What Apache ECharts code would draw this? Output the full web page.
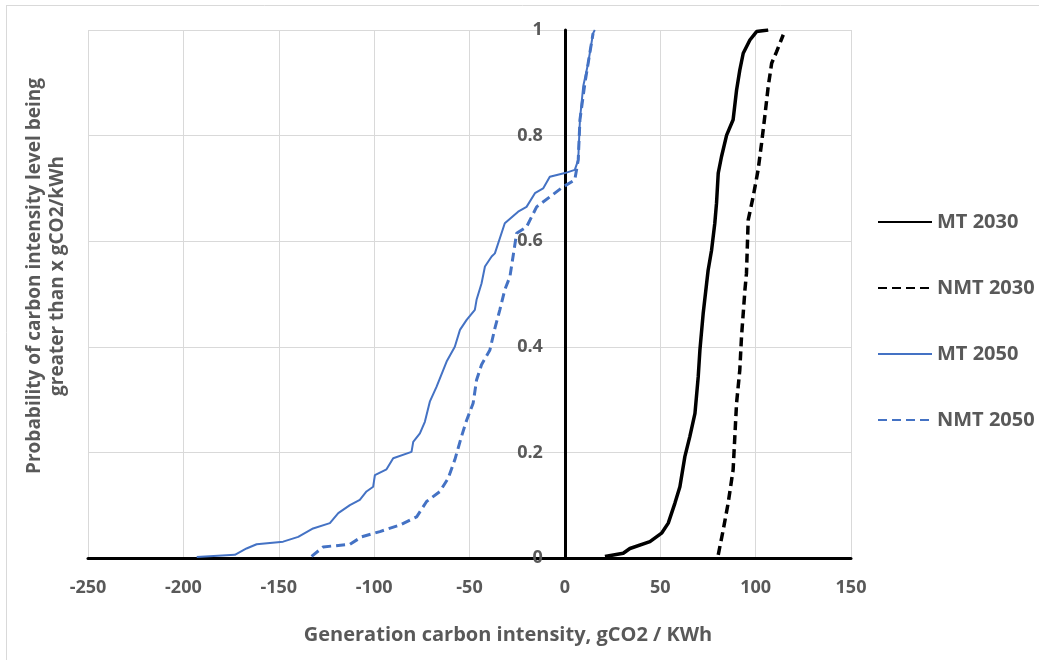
<!DOCTYPE html>
<html>
<head>
<meta charset="utf-8">
<script src="https://cdn.jsdelivr.net/npm/echarts@6/dist/echarts.min.js"></script>
<style>
  html, body { margin: 0; padding: 0; background: #fff; }
  #chart { width: 1039px; height: 660px; }
</style>
</head>
<body>
<div id="chart"></div>
<script>
// x = generation carbon intensity (gCO2/kWh), y = probability
var seriesNames = ['MT 2030', 'NMT 2030', 'MT 2050', 'NMT 2050'];
var xTicks = [-250, -200, -150, -100, -50, 0, 50, 100, 150];
var yTicks = [0, 0.2, 0.4, 0.6, 0.8, 1];

var mt2030 = [
  [21, 0.003], [30.6, 0.009], [34.1, 0.018], [44.6, 0.031], [50.7, 0.047],
  [54.2, 0.066], [57.7, 0.104], [60.3, 0.135], [62.9, 0.192], [65.5, 0.23],
  [68.2, 0.274], [69.9, 0.343], [70.8, 0.394], [72.5, 0.463], [74.3, 0.52],
  [75.1, 0.545], [76.9, 0.583], [78.6, 0.634], [79.5, 0.672], [80.4, 0.729],
  [82.1, 0.76], [84.8, 0.801], [88.2, 0.83], [90, 0.886], [91.7, 0.924],
  [93.5, 0.956], [97, 0.981], [100.5, 0.997], [106.6, 1]
];
var nmt2030 = [
  [80.4, 0.006], [83, 0.053], [85.6, 0.104], [88.2, 0.167], [89.1, 0.23],
  [90, 0.293], [91.7, 0.356], [92.6, 0.419], [94.4, 0.508], [95.2, 0.539],
  [96.1, 0.64], [98.7, 0.684], [101.3, 0.735], [103.1, 0.785], [104.8, 0.836],
  [106.6, 0.893], [108.4, 0.937], [111, 0.959], [114.5, 0.991]
];
var mt2050 = [
  [-193, 0.002], [-173, 0.006], [-166.9, 0.018], [-161.6, 0.026], [-147.7, 0.031],
  [-139.8, 0.04], [-132, 0.056], [-123.2, 0.066], [-118.8, 0.085], [-112.7, 0.1],
  [-107.5, 0.11], [-104, 0.126], [-100.5, 0.135], [-99.6, 0.157], [-93.5, 0.168],
  [-90, 0.189], [-80.4, 0.201], [-79.5, 0.22], [-76, 0.236], [-73.4, 0.258],
  [-70.8, 0.296], [-67.3, 0.324], [-62, 0.372], [-57.7, 0.4], [-55, 0.432],
  [-51.5, 0.451], [-47.2, 0.47], [-46.3, 0.489], [-43.7, 0.52], [-41.9, 0.552],
  [-38.4, 0.571], [-36.7, 0.577], [-31.5, 0.634], [-24.5, 0.656], [-20.1, 0.665],
  [-15.7, 0.691], [-11.4, 0.7], [-7.9, 0.722], [0, 0.729], [5.2, 0.735],
  [7, 0.754], [7.9, 0.83], [9.6, 0.893], [12.2, 0.937], [14.8, 0.994], [15.7, 1]
];
var nmt2050 = [
  [-132.8, 0.003], [-126.7, 0.021], [-112.7, 0.026], [-106.6, 0.04], [-97, 0.05],
  [-86.5, 0.0625], [-77.7, 0.078], [-72.5, 0.107], [-65.5, 0.126], [-61.2, 0.151],
  [-57.7, 0.186], [-54.2, 0.23], [-51.5, 0.261], [-48.1, 0.293], [-46.3, 0.337],
  [-43.7, 0.366], [-39.3, 0.394], [-36.7, 0.435], [-34.1, 0.47], [-31.5, 0.508],
  [-28.8, 0.533], [-25.3, 0.615], [-20.1, 0.627], [-14.8, 0.665], [-7.9, 0.684],
  [-0.9, 0.703], [5.2, 0.716], [7, 0.754], [7.9, 0.83], [10.5, 0.899],
  [12.2, 0.937], [14.8, 0.994]
];

var font = '"Open Sans"';
var textGrey = '#595959';
var blue = '#4472C4';

var chart = echarts.init(document.getElementById('chart'));

function lineSeries(name, data, color, width, dash) {
  return {
    name: name,
    type: 'line',
    data: data,
    symbol: 'none',
    showSymbol: false,
    silent: true,
    lineStyle: { color: color, width: width, type: dash ? [9, 5] : 'solid' },
    itemStyle: { color: color }
  };
}

var gridLeft = 88;

var option = {
  backgroundColor: '#fff',
  animation: false,
  textStyle: { fontFamily: font },
  grid: { left: gridLeft, right: 188, top: 30, bottom: 102 },
  xAxis: {
    type: 'value',
    min: xTicks[0],
    max: xTicks[xTicks.length - 1],
    interval: 50,
    axisLine: { onZero: true, lineStyle: { color: '#000', width: 3 } },
    axisTick: { show: false },
    axisLabel: { margin: 21, color: textGrey, fontSize: 18, fontWeight: 'bold', fontFamily: font },
    splitLine: { show: true, lineStyle: { color: '#d9d9d9', width: 1 } }
  },
  yAxis: {
    type: 'value',
    min: yTicks[0],
    max: yTicks[yTicks.length - 1],
    interval: 0.2,
    axisLine: { show: true, onZero: false, lineStyle: { color: '#000', width: 3 } },
    axisTick: { show: false },
    axisLabel: {
      margin: 22, color: textGrey, fontSize: 18, fontWeight: 'bold', fontFamily: font,
      formatter: function (v) { return String(Math.round(v * 10) / 10); }
    },
    splitLine: { show: true, lineStyle: { color: '#d9d9d9', width: 1 } }
  },
  legend: {
    orient: 'vertical',
    left: 872,
    top: 207,
    itemWidth: 54,
    itemHeight: 14,
    itemGap: 46,
    data: seriesNames,
    itemStyle: { opacity: 0 },
    textStyle: { color: textGrey, fontSize: 20, fontWeight: 'bold', fontFamily: font }
  },
  graphic: [
    { type: 'line', shape: { x1: 6, y1: 5.5, x2: 1039, y2: 5.5 }, style: { stroke: '#d9d9d9', lineWidth: 1 } },
    { type: 'line', shape: { x1: 6.5, y1: 5, x2: 6.5, y2: 660 }, style: { stroke: '#d9d9d9', lineWidth: 1 } },
    {
      type: 'text', x: 508, y: 635,
      style: {
        text: 'Generation carbon intensity, gCO2 / KWh',
        fill: textGrey, font: 'bold 20px ' + font,
        textAlign: 'center', textVerticalAlign: 'middle'
      }
    },
    {
      type: 'text', x: 46, y: 276, rotation: Math.PI / 2,
      style: {
        text: 'Probability of carbon intensity level being\ngreater than x gCO2/kWh',
        fill: textGrey, font: 'bold 19px ' + font, lineHeight: 23,
        textAlign: 'center', textVerticalAlign: 'middle'
      }
    }
  ],
  series: [
    lineSeries(seriesNames[0], mt2030, '#000', 3.5, false),
    lineSeries(seriesNames[1], nmt2030, '#000', 3.5, true),
    lineSeries(seriesNames[2], mt2050, blue, 2, false),
    lineSeries(seriesNames[3], nmt2050, blue, 3, true)
  ]
};

chart.setOption(option);

// move the y axis (line and labels) onto x = 0, like the original
var zeroX = chart.convertToPixel({ gridIndex: 0 }, [0, 0])[0];
chart.setOption({ yAxis: { offset: -(zeroX - gridLeft) } });
</script>
</body>
</html>
